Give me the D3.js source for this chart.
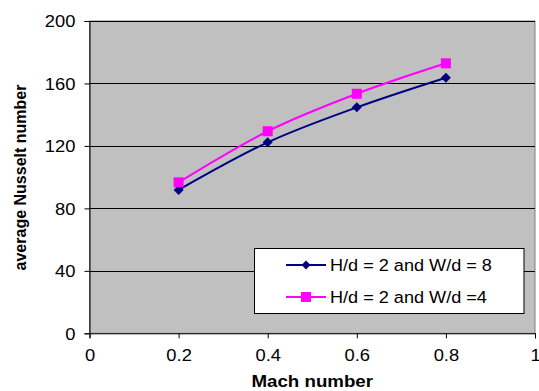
<!DOCTYPE html>
<html>
<head>
<meta charset="utf-8">
<script src="https://cdn.jsdelivr.net/npm/d3@7"></script>
<style>
  html, body { margin: 0; padding: 0; background: #fff; }
  svg { display: block; }
  text { font-family: "Liberation Sans", Arial, sans-serif; fill: #000; }
</style>
</head>
<body>
<svg id="chart" width="539" height="391"></svg>
<script>
// Mach number sample points
const mach = [0.2, 0.4, 0.6, 0.8];
// average Nusselt number for each configuration
const nuW8 = [91.8, 122.3, 144.7, 163.7];
const nuW4 = [96.7, 129.4, 153.4, 172.9];
const seriesNames = ["H/d = 2 and W/d = 8", "H/d = 2 and W/d =4"];
const xTicks = [0, 0.2, 0.4, 0.6, 0.8, 1];
const yTicks = [0, 40, 80, 120, 160, 200];

const plot = { left: 89.5, right: 535, top: 21, bottom: 333.3 };
const sx = 1.08; // horizontal stretch of text
const fs = 17;

const svg = d3.select("#chart");

const x = d3.scaleLinear().domain([0, 1]).range([plot.left, plot.right]);
const y = d3.scaleLinear().domain([0, 200]).range([plot.bottom, plot.top]);

// plot area
svg.append("rect")
  .attr("x", plot.left).attr("y", plot.top)
  .attr("width", plot.right - plot.left).attr("height", plot.bottom - plot.top)
  .attr("fill", "#c0c0c0")
  .attr("stroke", "#808080").attr("stroke-width", 1);

// horizontal gridlines
svg.append("g").selectAll("line")
  .data(yTicks.filter(v => v > 0))
  .join("line")
  .attr("x1", plot.left).attr("x2", plot.right)
  .attr("y1", d => Math.round(y(d)) + 0.5).attr("y2", d => Math.round(y(d)) + 0.5)
  .attr("stroke", "#000").attr("stroke-width", 1);

// y axis
const yAxis = svg.append("g")
  .attr("transform", `translate(${plot.left},0)`)
  .call(d3.axisLeft(y).tickValues(yTicks).tickSize(5).tickPadding(7).tickFormat(d3.format("d")));
yAxis.select(".domain").attr("stroke", "#000");
yAxis.selectAll(".tick line").attr("stroke", "#000");
yAxis.selectAll(".tick text")
  .attr("font-size", fs)
  .attr("x", null).attr("dy", null)
  .attr("dominant-baseline", "central")
  .attr("transform", `translate(-14,0) scale(${sx},1)`);

// x axis
const xAxis = svg.append("g")
  .attr("transform", `translate(0,${plot.bottom})`)
  .call(d3.axisBottom(x).tickValues(xTicks).tickSize(5).tickPadding(8).tickFormat(d => d === 0 || d === 1 ? d3.format("d")(d) : d3.format(".1f")(d)));
xAxis.select(".domain").attr("stroke", "#000");
xAxis.selectAll(".tick line").attr("stroke", "#000");
xAxis.selectAll(".tick text")
  .attr("font-size", fs)
  .attr("y", null).attr("dy", null)
  .attr("transform", `translate(0,28) scale(${sx},1)`);

// axis titles
svg.append("text")
  .attr("transform", `translate(${(plot.left + plot.right) / 2},386.5) scale(1.1,1)`)
  .attr("text-anchor", "middle")
  .attr("font-size", fs).attr("font-weight", "bold")
  .text("Mach number");

svg.append("text")
  .attr("transform", `translate(26,177.5) rotate(-90)`)
  .attr("text-anchor", "middle")
  .attr("font-size", 16).attr("font-weight", "bold")
  .text("average Nusselt number");

// series
const series = [
  { name: seriesNames[0], values: nuW8, color: "#000080", marker: "diamond" },
  { name: seriesNames[1], values: nuW4, color: "#ff00ff", marker: "square" }
];

const line = d3.line()
  .x((d, i) => x(mach[i]))
  .y(d => y(d))
  .curve(d3.curveCatmullRom.alpha(0));

function drawMarker(g, type, color, r) {
  if (type === "diamond") {
    g.append("path").attr("d", `M0,${-r}L${r},0L0,${r}L${-r},0Z`).attr("fill", color);
  } else {
    g.append("rect").attr("x", -5).attr("y", -5).attr("width", 10).attr("height", 10).attr("fill", color);
  }
}

series.forEach(s => {
  svg.append("path")
    .datum(s.values)
    .attr("d", line)
    .attr("fill", "none")
    .attr("stroke", s.color)
    .attr("stroke-width", 2);
  s.values.forEach((v, i) => {
    const g = svg.append("g").attr("transform", `translate(${x(mach[i])},${y(v)})`);
    drawMarker(g, s.marker, s.color, 5);
  });
});

// legend
const legend = svg.append("g");
legend.append("rect")
  .attr("x", 254.5).attr("y", 248.5)
  .attr("width", 269.5).attr("height", 65)
  .attr("fill", "#fff").attr("stroke", "#000").attr("stroke-width", 1);

const rowsY = [265, 297];
series.forEach((s, i) => {
  const yy = rowsY[i];
  legend.append("line")
    .attr("x1", 286).attr("x2", 326).attr("y1", yy).attr("y2", yy)
    .attr("stroke", s.color).attr("stroke-width", 2);
  const g = legend.append("g").attr("transform", `translate(306,${yy})`);
  drawMarker(g, s.marker, s.color, 4.5);
  legend.append("text")
    .attr("transform", `translate(330,${yy}) scale(1.065,1)`)
    .attr("dominant-baseline", "central")
    .attr("font-size", fs)
    .text(s.name);
});
</script>
</body>
</html>
